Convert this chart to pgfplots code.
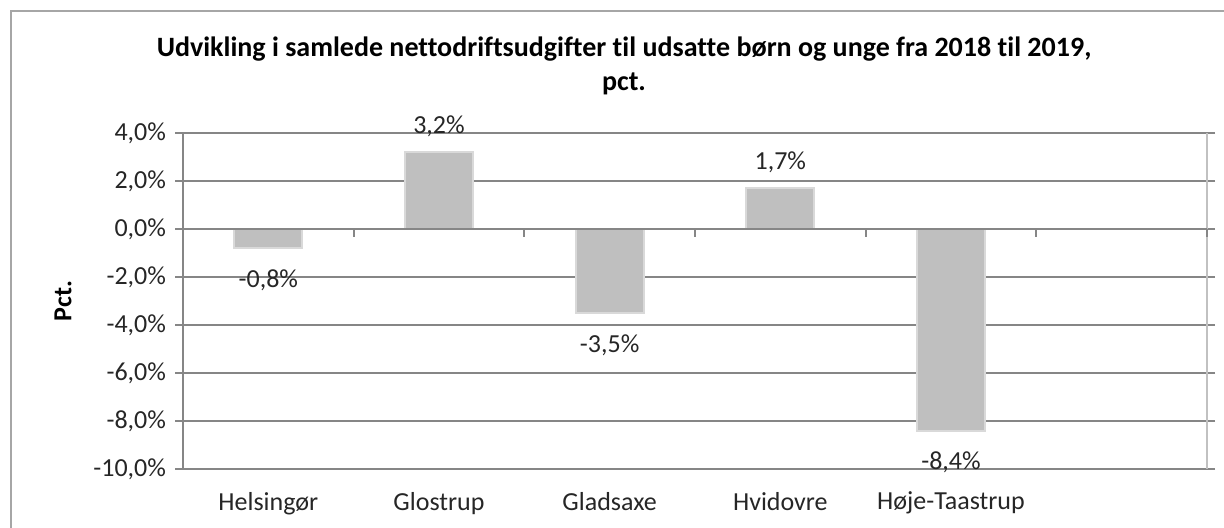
\documentclass[border=0pt]{standalone}
\usepackage{fontspec}
\setmainfont{Carlito}[Ligatures=NoCommon]
\usepackage{pgfplots}
\pgfplotsset{compat=1.18}
\definecolor{gridc}{HTML}{868686}
\definecolor{barc}{HTML}{BFBFBF}
\definecolor{bard}{HTML}{D9D9D9}
\definecolor{framec}{HTML}{A6A6A6}
\begin{document}
\begin{tikzpicture}[x=1pt,y=1pt]
\path[use as bounding box] (0,0) rectangle (612,264);
\draw[framec, line width=1.2pt] (5.5,0) -- (5.5,258.5) -- (612,258.5);
\node[font=\fontsize{14}{17}\selectfont\bfseries, align=center] at (312,231)
  {Udvikling i samlede nettodriftsudgifter til udsatte børn og unge fra 2018 til 2019,\\[0pt] pct.};
\begin{axis}[
  at={(91.5pt,29.5pt)}, anchor=south west,
  scale only axis, width=512pt, height=168pt,
  xmin=-0.5, xmax=5.5, ymin=-10, ymax=4,
  ytick={-10,-8,...,4},
  yticklabels={{-10,0\%},{-8,0\%},{-6,0\%},{-4,0\%},{-2,0\%},{0,0\%},{2,0\%},{4,0\%}},
  xtick={0,1,2,3,4},
  xticklabels={Helsingør,Glostrup,Gladsaxe,Hvidovre,Høje-Taastrup},
  major x tick style={draw=none},
  ymajorgrids, grid style={gridc, line width=1pt},
  axis line style={draw=none},
  y tick style={gridc, line width=1pt},
  tick align=outside, major tick length=4pt,
  ticklabel style={font=\fontsize{13}{15}\selectfont, text=black!85},
  yticklabel style={xshift=-1pt},
  xticklabel style={yshift=-4pt},
  ylabel={\bfseries Pct.}, ylabel style={font=\fontsize{13}{15}\selectfont, yshift=4pt},
  ybar, bar width=34pt,
  clip=false,
  point meta=explicit symbolic,
  visualization depends on={y \as \rawy},
  nodes near coords,
  every node near coord/.append style={anchor=center, font=\fontsize{13}{15}\selectfont, text=black!85,
     yshift={ifthenelse(\rawy>0,13,-16)}},
]
\draw[framec!70, line width=0.6pt] (axis cs:5.5,-10) -- (axis cs:5.5,4);
\draw[gridc, line width=1pt] (axis cs:-0.5,-10) -- (axis cs:-0.5,4);
\addplot[fill=barc, draw=bard, line width=1pt] table[meta=lab] {
x y lab
0 -0.8 -0,8\%
1 3.2 3,2\%
2 -3.5 -3,5\%
3 1.7 1,7\%
4 -8.4 -8,4\%
};
\draw[gridc, line width=1pt] (axis cs:-0.5,0) -- (axis cs:5.5,0);
\pgfplotsinvokeforeach{0.5,1.5,2.5,3.5,4.5,5.5}{
  \draw[gridc, line width=1pt] (axis cs:#1,0) -- ([yshift=-4pt]axis cs:#1,0);
}
\end{axis}
\end{tikzpicture}
\end{document}
